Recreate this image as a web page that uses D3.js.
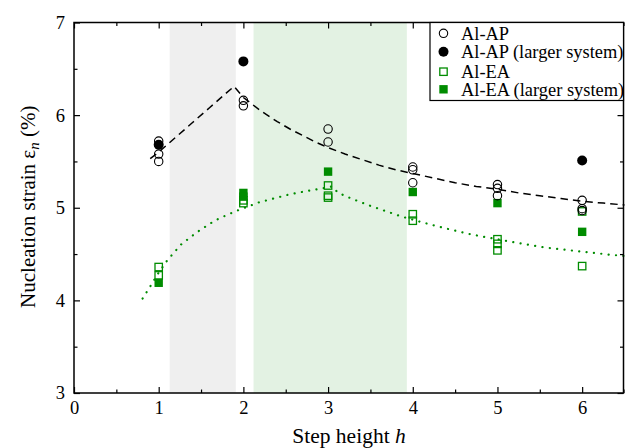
<!DOCTYPE html>
<html>
<head>
<meta charset="utf-8">
<script src="https://cdn.jsdelivr.net/npm/d3@7"></script>
<style>
  body { margin: 0; background: #fff; }
  svg { display: block; font-family: 'Liberation Serif', 'Times New Roman', serif; }
</style>
</head>
<body>
<svg id="chart"></svg>
<script>
const WIDTH = 625
const HEIGHT = 448
const PADDING = [22.5, 0.5, 55, 74] // top right bottom left

// shaded step-height bands
const bands = [
    { from: 1.13, to: 1.91, color: '#efefef' },
    { from: 2.12, to: 3.93, color: '#e3f2e3' },
]

// Al-AP (open circles)
const apX = [1, 1, 1, 2, 2, 3, 3, 4, 4, 4, 5, 5, 5, 6, 6, 6]
const apY = [5.72, 5.58, 5.50, 6.16, 6.10, 5.85, 5.71, 5.44, 5.41, 5.27, 5.25, 5.21, 5.13, 5.08, 4.99, 4.97]

// Al-AP larger system (filled circles)
const apLargeX = [1, 2, 6]
const apLargeY = [5.68, 6.58, 5.51]

// Al-EA (open squares)
const eaX = [1, 1, 2, 2, 3, 3, 3, 4, 4, 5, 5, 5, 6, 6]
const eaY = [4.36, 4.27, 5.08, 5.05, 5.24, 5.13, 5.11, 4.93, 4.86, 4.66, 4.61, 4.54, 4.96, 4.37]

// Al-EA larger system (filled squares)
const eaLargeX = [1, 2, 2, 3, 4, 5, 6]
const eaLargeY = [4.19, 5.16, 5.12, 5.39, 5.17, 5.05, 4.74]

// fitted curves
const apFitX = [0.9, 1.0, 1.2, 1.4, 1.6, 1.8, 1.89, 2.0, 2.1, 2.2, 2.3, 2.4, 2.55, 2.7, 2.85, 3.0, 3.2, 3.4, 3.6, 3.8, 4.0, 4.25, 4.5, 4.75, 5.0, 5.25, 5.5, 5.75, 6.0, 6.25, 6.5]
const apFitY = [5.53, 5.6, 5.76, 5.92, 6.08, 6.24, 6.31, 6.19, 6.12, 6.05, 5.99, 5.93, 5.85, 5.78, 5.71, 5.65, 5.58, 5.52, 5.46, 5.41, 5.37, 5.32, 5.27, 5.23, 5.20, 5.16, 5.13, 5.10, 5.07, 5.05, 5.03]

const eaFitX = [0.81, 0.9, 1.0, 1.1, 1.26, 1.4, 1.49, 1.66, 1.8, 1.93, 2.19, 2.4, 2.57, 2.87, 3.05, 3.12, 3.3, 3.5, 3.66, 3.85, 4.12, 4.42, 4.7, 5.0, 5.18, 5.57, 5.96, 6.36, 6.5]
const eaFitY = [4.02, 4.15, 4.30, 4.43, 4.60, 4.70, 4.76, 4.86, 4.92, 4.97, 5.06, 5.11, 5.15, 5.20, 5.23, 5.16, 5.09, 5.02, 4.97, 4.91, 4.84, 4.77, 4.71, 4.66, 4.63, 4.57, 4.53, 4.49, 4.48]

const xTicks = [0, 1, 2, 3, 4, 5, 6]
const yTicks = [3, 4, 5, 6, 7]

const legendItems = [
    { label: 'Al-AP', shape: 'circle', filled: false, color: '#000' },
    { label: 'Al-AP (larger system)', shape: 'circle', filled: true, color: '#000' },
    { label: 'Al-EA', shape: 'square', filled: false, color: '#008c00' },
    { label: 'Al-EA (larger system)', shape: 'square', filled: true, color: '#008c00' },
]

const GREEN = '#008c00'

const svg = d3.select('#chart')
    .attr('width', WIDTH)
    .attr('height', HEIGHT)
    .attr('viewBox', `0 0 ${WIDTH} ${HEIGHT}`)

const leftSide = PADDING[3]
const rightSide = WIDTH - PADDING[1]
const topSide = PADDING[0]
const bottomSide = HEIGHT - PADDING[2]

const xScale = d3.scaleLinear().domain([0, 6.5]).range([leftSide, rightSide])
const yScale = d3.scaleLinear().domain([3, 7]).range([bottomSide, topSide])

// bands
svg.append('g').selectAll('rect')
    .data(bands)
    .join('rect')
    .attr('x', d => xScale(d.from))
    .attr('width', d => xScale(d.to) - xScale(d.from))
    .attr('y', topSide)
    .attr('height', bottomSide - topSide)
    .attr('fill', d => d.color)

// axes with inward ticks
const halves = (lo, hi) => d3.range(lo * 2, hi * 2 + 1).map(v => v / 2)
const xMinor = halves(0, 6.5).filter(v => v % 1 !== 0)
const yMinor = halves(3, 7).filter(v => v % 1 !== 0)

function addAxis(axis, transform, labels) {
    const g = svg.append('g')
        .attr('transform', transform)
        .call(axis)
    g.select('.domain').remove()
    g.selectAll('line').attr('stroke', '#000').attr('stroke-width', 1.2)
    g.selectAll('text')
        .attr('font-family', "'Liberation Serif', serif")
        .attr('font-size', 18.5)
        .attr('fill', '#000')
    if (!labels) g.selectAll('text').remove()
    return g
}

addAxis(d3.axisBottom(xScale).tickValues(xTicks).tickSizeInner(-6).tickSizeOuter(0).tickPadding(8).tickFormat(d3.format('d')),
    `translate(0,${bottomSide})`, true)
addAxis(d3.axisBottom(xScale).tickValues(xMinor).tickSizeInner(-3.5).tickSizeOuter(0).tickFormat(''),
    `translate(0,${bottomSide})`, false)
addAxis(d3.axisTop(xScale).tickValues(xTicks).tickSizeInner(-6).tickSizeOuter(0).tickFormat(''),
    `translate(0,${topSide})`, false)
addAxis(d3.axisTop(xScale).tickValues(xMinor).tickSizeInner(-3.5).tickSizeOuter(0).tickFormat(''),
    `translate(0,${topSide})`, false)
addAxis(d3.axisLeft(yScale).tickValues(yTicks).tickSizeInner(-6).tickSizeOuter(0).tickPadding(9).tickFormat(d3.format('d')),
    `translate(${leftSide},0)`, true)
addAxis(d3.axisLeft(yScale).tickValues(yMinor).tickSizeInner(-3.5).tickSizeOuter(0).tickFormat(''),
    `translate(${leftSide},0)`, false)
addAxis(d3.axisRight(yScale).tickValues(yTicks).tickSizeInner(-6).tickSizeOuter(0).tickFormat(''),
    `translate(${rightSide - 1},0)`, false)
addAxis(d3.axisRight(yScale).tickValues(yMinor).tickSizeInner(-3.5).tickSizeOuter(0).tickFormat(''),
    `translate(${rightSide - 1},0)`, false)

// fitted curves
const line = d3.line()
    .x(d => xScale(d[0]))
    .y(d => yScale(d[1]))

svg.append('path')
    .datum(d3.zip(apFitX, apFitY))
    .attr('d', line)
    .attr('fill', 'none')
    .attr('stroke', '#000')
    .attr('stroke-width', 1.5)
    .attr('stroke-dasharray', '7.5 5')

svg.append('path')
    .datum(d3.zip(eaFitX, eaFitY))
    .attr('d', line)
    .attr('fill', 'none')
    .attr('stroke', GREEN)
    .attr('stroke-width', 2.2)
    .attr('stroke-linecap', 'round')
    .attr('stroke-dasharray', '0.1 7.3')

// markers
function drawMarker(g, shape, filled, color) {
    if (shape === 'circle') {
        g.append('circle')
            .attr('r', filled ? 5 : 4.2)
            .attr('fill', filled ? color : 'none')
            .attr('stroke', color)
            .attr('stroke-width', filled ? 0 : 1.1)
    } else {
        const s = filled ? 8.4 : 7.4
        g.append('rect')
            .attr('x', -s / 2).attr('y', -s / 2)
            .attr('width', s).attr('height', s)
            .attr('fill', filled ? color : 'none')
            .attr('stroke', color)
            .attr('stroke-width', filled ? 0 : 1.3)
    }
}

function drawSeries(xs, ys, shape, filled, color) {
    svg.append('g').selectAll('g')
        .data(d3.zip(xs, ys))
        .join('g')
        .attr('transform', d => `translate(${xScale(d[0])},${yScale(d[1])})`)
        .each(function () { drawMarker(d3.select(this), shape, filled, color) })
}

drawSeries(eaX, eaY, 'square', false, GREEN)
drawSeries(eaLargeX, eaLargeY, 'square', true, GREEN)
drawSeries(apX, apY, 'circle', false, '#000')
drawSeries(apLargeX, apLargeY, 'circle', true, '#000')

// frame
svg.append('rect')
    .attr('x', leftSide).attr('y', topSide)
    .attr('width', rightSide - leftSide - 1).attr('height', bottomSide - topSide)
    .attr('fill', 'none')
    .attr('stroke', '#000')
    .attr('stroke-width', 1.5)

// legend
const legend = svg.append('g')
legend.append('rect')
    .attr('x', 430).attr('y', topSide)
    .attr('width', rightSide - 1 - 430).attr('height', 78)
    .attr('fill', '#fff')
    .attr('stroke', '#000')
    .attr('stroke-width', 1.2)

const rowY = [33.3, 51.7, 71.7, 89.3]
legendItems.forEach((item, i) => {
    const g = legend.append('g').attr('transform', `translate(443.5,${rowY[i]})`)
    drawMarker(g, item.shape, item.filled, item.color)
    legend.append('text')
        .attr('x', 461)
        .attr('y', rowY[i])
        .attr('dy', '0.35em')
        .attr('font-size', 18.4)
        .text(item.label)
})

// axis titles
svg.append('text')
    .attr('x', 349)
    .attr('y', 442.5)
    .attr('text-anchor', 'middle')
    .attr('font-size', 21.5)
    .call(t => {
        t.append('tspan').text('Step height ')
        t.append('tspan').attr('font-style', 'italic').text('h')
    })

svg.append('text')
    .attr('transform', `translate(35,${(topSide + bottomSide) / 2 - 1}) rotate(-90)`)
    .attr('text-anchor', 'middle')
    .attr('font-size', 21)
    .call(t => {
        t.append('tspan').text('Nucleation strain ε')
        t.append('tspan').attr('font-style', 'italic').attr('font-size', 15).attr('dy', 4).text('n')
        t.append('tspan').attr('dy', -4).text('  (%)')
    })
</script>
</body>
</html>
